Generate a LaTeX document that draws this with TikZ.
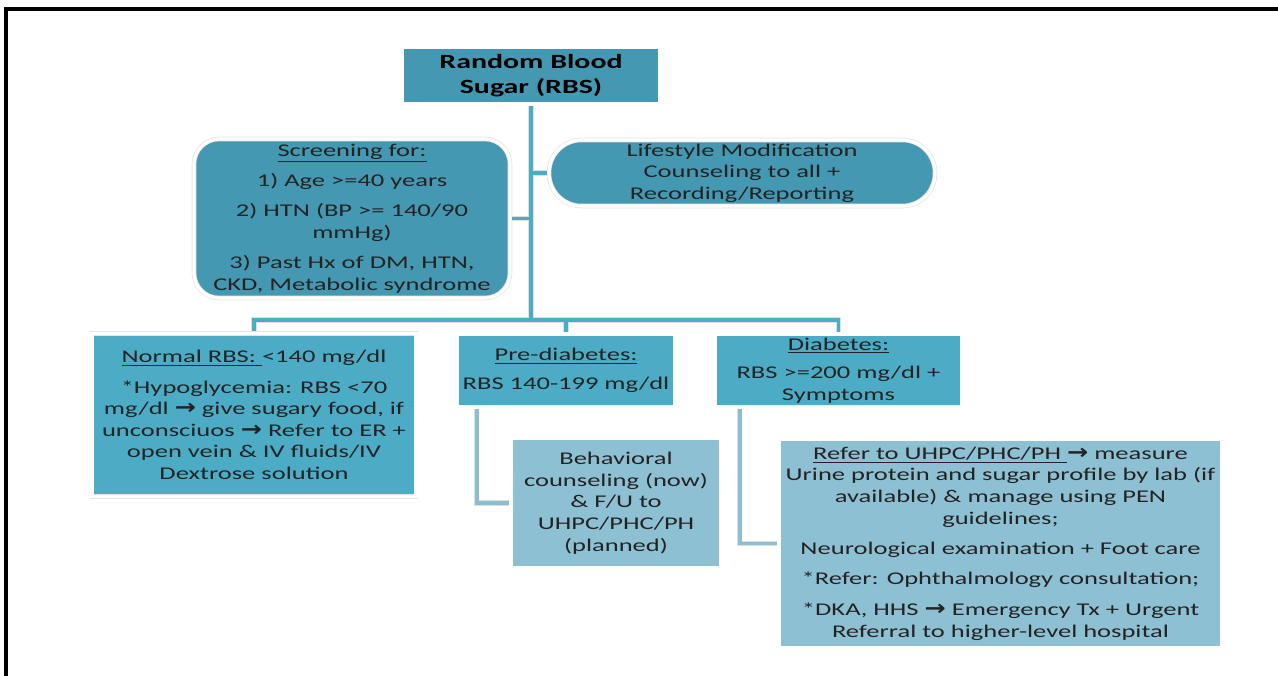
\documentclass[tikz,border=0pt]{standalone}
\usepackage{fontspec}
\setmainfont{Carlito}[FakeStretch=1.48]
\newfontfamily\arrowfont{DejaVu Sans}[FakeStretch=1.2]
\usepackage{xcolor}
\usepackage{tikz}
\definecolor{boxdark}{RGB}{68,152,178}
\definecolor{boxmid}{RGB}{76,172,198}
\definecolor{boxlight}{RGB}{142,192,211}
\definecolor{linemid}{RGB}{75,172,198}
\definecolor{linelight}{RGB}{138,190,208}
\definecolor{textdark}{RGB}{35,35,35}
\tikzset{
  boxframe/.style = {draw=gray!22, double=white, double distance=1.8pt,
                     line width=0.4pt, outer sep=1.3pt, inner sep=2pt,
                     align=center, text=textdark,
                     font=\fontsize{10.2pt}{12.3pt}\selectfont},
  rbsbox/.style   = {rectangle, boxframe, fill=boxdark, text=black,
                     font=\fontsize{11.5pt}{14.2pt}\selectfont\bfseries},
  scrbox/.style   = {rectangle, boxframe, fill=boxdark, rounded corners=0.5cm},
  lifebox/.style  = {rectangle, boxframe, fill=boxdark, rounded corners=0.65cm},
  catbox/.style   = {rectangle, boxframe, fill=boxmid},
  actbox/.style   = {rectangle, boxframe, fill=boxlight},
  conn/.style     = {preaction={draw=gray!25, line width=3pt},
                     draw=linemid, line width=2.2pt},
  subconn/.style  = {preaction={draw=gray!25, line width=3pt},
                     draw=linelight, line width=2.2pt}
}
\newcommand{\arr}{{\arrowfont\bfseries\fontsize{12pt}{12pt}\selectfont →}}

\begin{document}
\begin{tikzpicture}[x=0.02cm, y=-0.02cm]
  \useasboundingbox (0,0) rectangle (1278,676);
  % ---- page frame ----
  \draw[line width=0.065cm] (6,676) -- (6,9) -- (1278,9);
  % ---- top ----
  \node[rbsbox, minimum width=5.16cm, minimum height=1.14cm] (rbs) at (531,75.5)
    {Random Blood\\Sugar (RBS)};
  \node[scrbox, minimum width=6.32cm, minimum height=3.18cm] (screen) at (352,218.5)
    {\underline{Screening for:}\\[5pt]
     1) Age >=40 years\\[5pt]
     2) HTN (BP >= 140/90\\ mmHg)\\[5pt]
     3) Past Hx of DM, HTN,\\ CKD, Metabolic syndrome};
  \node[lifebox, minimum width=7.72cm, minimum height=1.32cm] (life) at (742,173)
    {Lifestyle Modification\\ Counseling to all +\\ Recording/Reporting};
  % ---- RBS categories ----
  \node[catbox, minimum width=6.48cm, minimum height=3.26cm] (normal) at (254,415)
    {\underline{Normal RBS: }<140 mg/dl\\[5pt]
     *Hypoglycemia: RBS <70\\ mg/dl \arr{} give sugary food, if\\
     unconsciuos \arr{} Refer to ER +\\ open vein \& IV fluids/IV\\
     Dextrose solution};
  \node[catbox, minimum width=4.36cm, minimum height=1.46cm] (pre) at (566,370.5)
    {\underline{Pre-diabetes:}\\[4pt] RBS 140-199 mg/dl};
  \node[catbox, minimum width=4.94cm, minimum height=1.46cm] (dia) at (838.5,370.5)
    {\underline{Diabetes:}\\[4pt] RBS >=200 mg/dl +\\ Symptoms};
  % ---- actions ----
  \node[actbox, minimum width=4.2cm, minimum height=2.6cm] (behav) at (616,503)
    {Behavioral\\ counseling (now)\\ \& F/U to\\ UHPC/PHC/PH\\ (planned)};
  \node[actbox, minimum width=8.86cm, minimum height=4.18cm] (detail) at (1000.5,543.5)
    {\underline{Refer to UHPC/PHC/PH }\arr{} measure\\
     Urine protein and sugar profile by lab (if\\
     available) \& manage using PEN\\ guidelines;\\[5pt]
     Neurological examination + Foot care\\[5pt]
     *Refer: Ophthalmology consultation;\\[5pt]
     *DKA, HHS \arr{} Emergency Tx + Urgent\\
     Referral to higher-level hospital};
  % ---- connectors ----
  \coordinate (bus) at (531,320);
  \draw[conn] (rbs.south) -- (rbs.south |- bus)
              (screen.east) -- (screen.east -| rbs.south)
              (life.west) -- (life.west -| rbs.south)
              (normal.north) -- (normal.north |- bus) -- (dia.north |- bus) -- (dia.north)
              (pre.north) -- (pre.north |- bus);
  \draw[subconn] ([xshift=0.44cm]pre.south west) |- (behav.west);
  \draw[subconn] ([xshift=0.54cm]dia.south west) |- (detail.west);
\end{tikzpicture}
\end{document}
